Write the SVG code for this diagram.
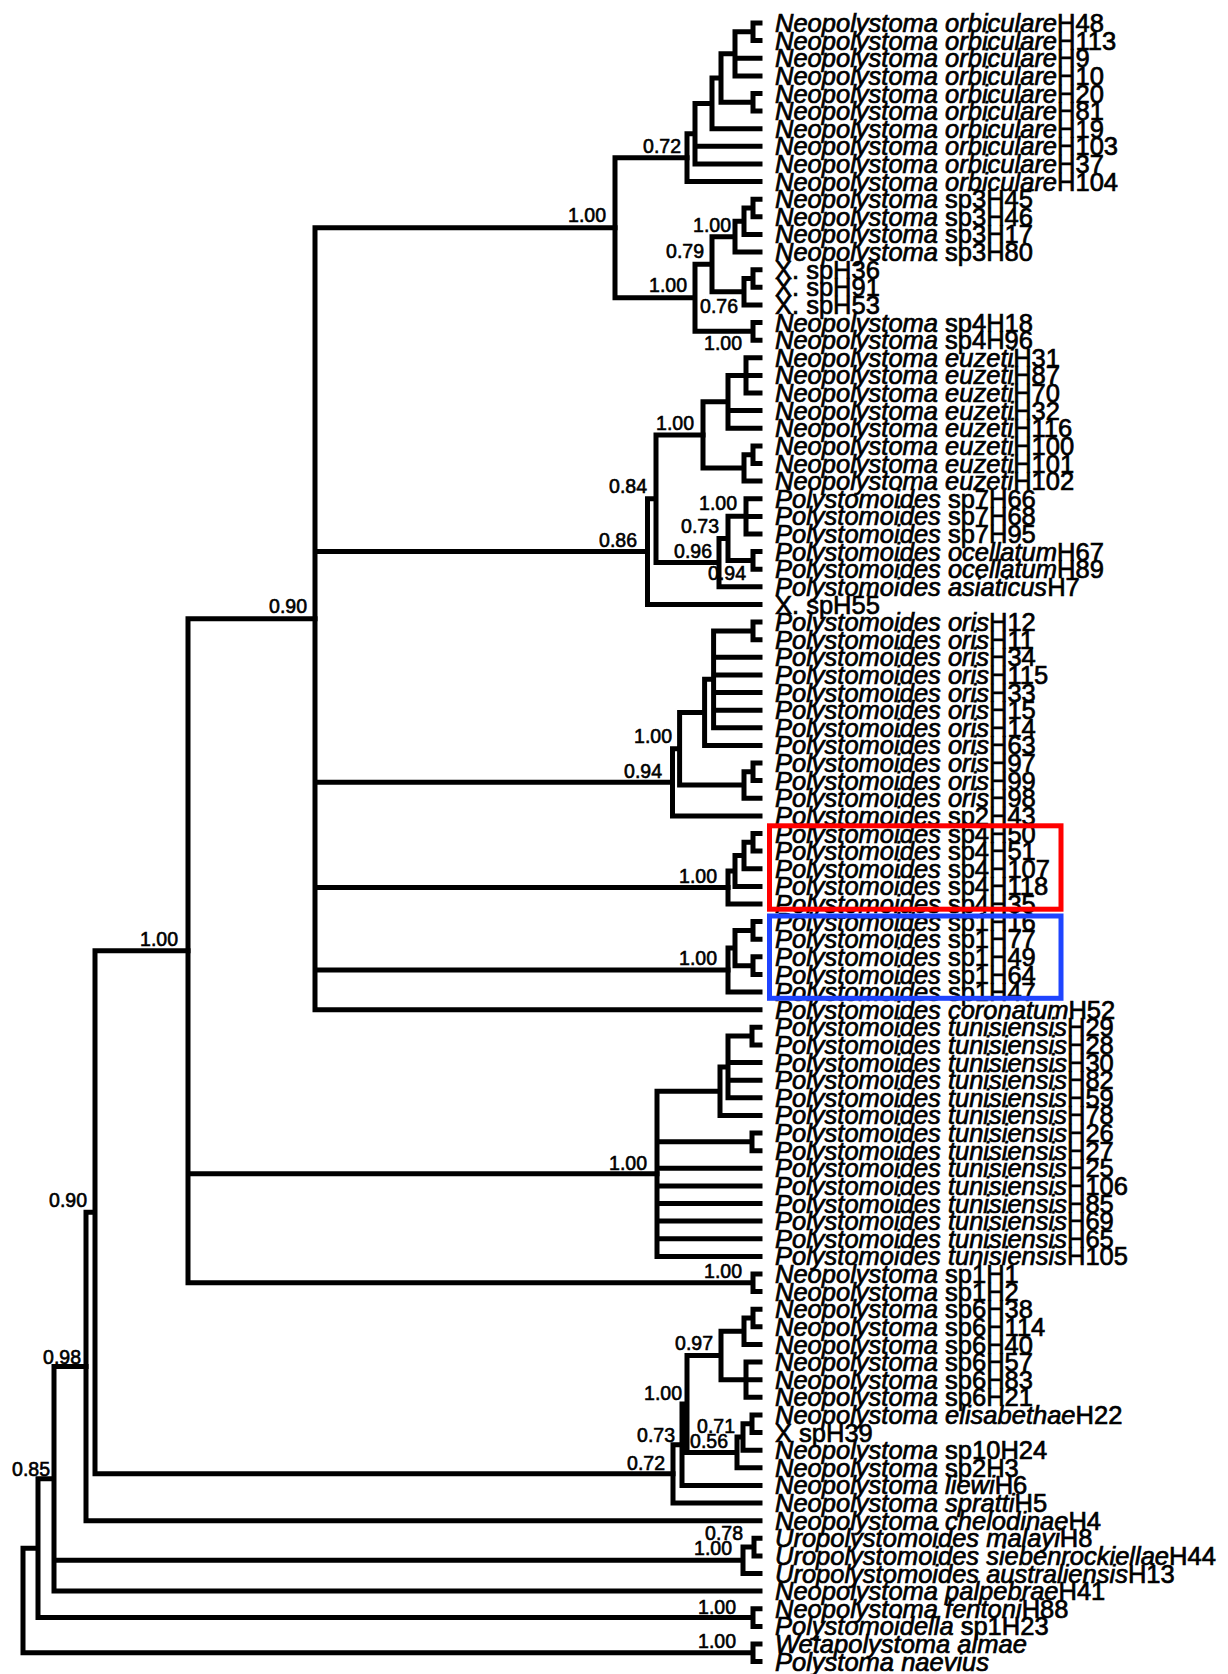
<svg xmlns="http://www.w3.org/2000/svg" width="1228" height="1674" viewBox="0 0 1228 1674">
<style>
.br{fill:none;stroke:#000;stroke-width:5;stroke-linecap:square;stroke-linejoin:miter}
.lf{font-family:"Liberation Sans",Arial,sans-serif;font-size:25.5px;fill:#000;stroke:#000;stroke-width:0.7px}
.i{font-style:italic}
.sp{font-family:"Liberation Sans",Arial,sans-serif;font-size:19.5px;fill:#000;stroke:#000;stroke-width:0.6px;text-anchor:end}
.box{fill:none;stroke-width:5}
</style>
<rect width="1228" height="1674" fill="#fff"/>
<g id="connectors" class="br">
<path d="M760,23H753V40.6H760 M753,31.8H735V75.9H760 M735,58.2H760 M760,93.5H753V111.1H760 M735,53.85H721V102.3H753 M721,78.1H712V128.7H760 M712,103.4H695V164H760 M695,146.3H760 M695,133.7H687V181.6H760"/>
<path d="M760,199.2H753V216.8H760 M753,208H744V234.4H760 M744,221.2H735V252.1H760 M760,269.7H753V287.3H760 M753,278.5H744V304.9H760 M735,236.65H712V291.7H744 M760,322.5H753V340.2H760 M712,264.2H695V331.35H753 M687,157.65H615V297.8H695"/>
<path d="M760,357.8H746V393H760 M746,375.4H760 M746,375.4H728V428.3H760 M728,410.6H760 M760,445.9H753V463.5H760 M753,454.7H744V481.1H760 M728,401.85H703V467.9H744"/>
<path d="M760,498.7H746V534H760 M746,516.4H760 M760,551.6H753V569.2H760 M746,516.35H728V560.4H753 M728,538.4H719V586.8H760 M703,434.9H656V562.6H719 M656,498.75H647.5V604.5H760"/>
<path d="M760,622.1H753V639.7H760 M753,630.9H713.6V727.8H760 M713.6,657.3H760 M713.6,674.9H760 M713.6,692.6H760 M713.6,710.2H760 M713.6,679.35H704.6V745.4H760 M760,763H753V780.6H760 M753,771.8H744V798.3H760 M704.6,712.4H679.6V785.05H744 M679.6,748.7H672.5V815.9H760"/>
<path d="M760,833.5H753V851.1H760 M753,842.3H744V868.7H760 M744,855.5H735V886.4H760 M735,870.95H728V904H760"/>
<path d="M760,921.6H753V939.2H760 M760,956.8H753V974.5H760 M753,930.4H735V965.65H753 M735,948H728V992.1H760"/>
<path d="M615,227.7H315V1009.7H760 M315,551.6H647.5 M315,782.3H672.5 M315,887.5H728 M315,970.05H728"/>
<path d="M760,1027.3H752V1044.9H760 M752,1036.1H728V1097.8H760 M728,1062.6H760 M728,1080.2H760 M728,1066.95H720V1115.4H760 M760,1133H752V1150.7H760 M720,1091.2H657V1256.4H760 M657,1141.85H752 M657,1168.3H760 M657,1185.9H760 M657,1203.5H760 M657,1221.1H760 M657,1238.8H760"/>
<path d="M760,1274H753V1291.6H760 M315,618.7H188V1282.8H753 M188,1173.8H657"/>
<path d="M760,1309.2H753V1326.8H760 M753,1318H744V1344.5H760 M760,1362.1H746V1397.3H760 M746,1379.7H760 M744,1331.25H721V1379.7H746 M760,1414.9H752V1432.6H760 M752,1423.75H743V1450.2H760 M743,1436.95H737V1467.8H760 M721,1355.5H687V1452.4H737 M687,1403.95H682V1485.4H760 M682,1444.7H673V1503H760"/>
<path d="M188,950.75H95V1473.85H673 M95,1212.3H86V1520.7H760"/>
<path d="M760,1538.3H754V1555.9H760 M754,1547.1H743V1573.5H760 M86,1366.5H54V1591.1H760 M54,1560.3H743 M760,1608.8H753V1626.4H760 M54,1478.8H38V1617.6H753 M760,1644H753V1661.6H760 M38,1548.2H23V1652.8H753"/>
</g>
<g id="support" class="sp">
<text x="606" y="222">1.00</text>
<text x="681" y="153">0.72</text>
<text x="731" y="232">1.00</text>
<text x="704" y="258">0.79</text>
<text x="687" y="292">1.00</text>
<text x="738" y="313">0.76</text>
<text x="742" y="350">1.00</text>
<text x="694" y="430">1.00</text>
<text x="647" y="493">0.84</text>
<text x="737" y="510">1.00</text>
<text x="719" y="533">0.73</text>
<text x="712" y="558">0.96</text>
<text x="637" y="547">0.86</text>
<text x="746" y="580">0.94</text>
<text x="307" y="613">0.90</text>
<text x="672" y="743">1.00</text>
<text x="662" y="778">0.94</text>
<text x="717" y="883">1.00</text>
<text x="717" y="965">1.00</text>
<text x="647" y="1170">1.00</text>
<text x="742" y="1278">1.00</text>
<text x="178" y="946">1.00</text>
<text x="713" y="1350">0.97</text>
<text x="682" y="1400">1.00</text>
<text x="675" y="1442">0.73</text>
<text x="665" y="1470">0.72</text>
<text x="735" y="1433">0.71</text>
<text x="728" y="1448">0.56</text>
<text x="87" y="1207">0.90</text>
<text x="81" y="1364">0.98</text>
<text x="50" y="1476">0.85</text>
<text x="743" y="1540">0.78</text>
<text x="732" y="1555">1.00</text>
<text x="736" y="1614">1.00</text>
<text x="736" y="1648">1.00</text>
</g>
<g id="leaves" class="lf">
<g id="n1"><text x="775" y="32"><tspan class="i">Neopolystoma orbiculare</tspan>H48</text></g>
<g id="n2"><text x="775" y="49.6"><tspan class="i">Neopolystoma orbiculare</tspan>H113</text></g>
<g id="n3"><text x="775" y="67.2"><tspan class="i">Neopolystoma orbiculare</tspan>H9</text></g>
<g id="n4"><text x="775" y="84.9"><tspan class="i">Neopolystoma orbiculare</tspan>H10</text></g>
<g id="n5"><text x="775" y="102.5"><tspan class="i">Neopolystoma orbiculare</tspan>H20</text></g>
<g id="n6"><text x="775" y="120.1"><tspan class="i">Neopolystoma orbiculare</tspan>H81</text></g>
<g id="n7"><text x="775" y="137.7"><tspan class="i">Neopolystoma orbiculare</tspan>H19</text></g>
<g id="n8"><text x="775" y="155.3"><tspan class="i">Neopolystoma orbiculare</tspan>H103</text></g>
<g id="n9"><text x="775" y="173"><tspan class="i">Neopolystoma orbiculare</tspan>H37</text></g>
<g id="n10"><text x="775" y="190.6"><tspan class="i">Neopolystoma orbiculare</tspan>H104</text></g>
<g id="n11"><text x="775" y="208.2"><tspan class="i">Neopolystoma</tspan> sp3H45</text></g>
<g id="n12"><text x="775" y="225.8"><tspan class="i">Neopolystoma</tspan> sp3H46</text></g>
<g id="n13"><text x="775" y="243.4"><tspan class="i">Neopolystoma</tspan> sp3H17</text></g>
<g id="n14"><text x="775" y="261.1"><tspan class="i">Neopolystoma</tspan> sp3H80</text></g>
<g id="n15"><text x="775" y="278.7">X. spH36</text></g>
<g id="n16"><text x="775" y="296.3">X. spH91</text></g>
<g id="n17"><text x="775" y="313.9">X. spH53</text></g>
<g id="n18"><text x="775" y="331.5"><tspan class="i">Neopolystoma</tspan> sp4H18</text></g>
<g id="n19"><text x="775" y="349.2"><tspan class="i">Neopolystoma</tspan> sp4H96</text></g>
<g id="n20"><text x="775" y="366.8"><tspan class="i">Neopolystoma euzeti</tspan>H31</text></g>
<g id="n21"><text x="775" y="384.4"><tspan class="i">Neopolystoma euzeti</tspan>H87</text></g>
<g id="n22"><text x="775" y="402"><tspan class="i">Neopolystoma euzeti</tspan>H70</text></g>
<g id="n23"><text x="775" y="419.6"><tspan class="i">Neopolystoma euzeti</tspan>H32</text></g>
<g id="n24"><text x="775" y="437.3"><tspan class="i">Neopolystoma euzeti</tspan>H116</text></g>
<g id="n25"><text x="775" y="454.9"><tspan class="i">Neopolystoma euzeti</tspan>H100</text></g>
<g id="n26"><text x="775" y="472.5"><tspan class="i">Neopolystoma euzeti</tspan>H101</text></g>
<g id="n27"><text x="775" y="490.1"><tspan class="i">Neopolystoma euzeti</tspan>H102</text></g>
<g id="n28"><text x="775" y="507.7"><tspan class="i">Polystomoides</tspan> sp7H66</text></g>
<g id="n29"><text x="775" y="525.4"><tspan class="i">Polystomoides</tspan> sp7H68</text></g>
<g id="n30"><text x="775" y="543"><tspan class="i">Polystomoides</tspan> sp7H95</text></g>
<g id="n31"><text x="775" y="560.6"><tspan class="i">Polystomoides ocellatum</tspan>H67</text></g>
<g id="n32"><text x="775" y="578.2"><tspan class="i">Polystomoides ocellatum</tspan>H89</text></g>
<g id="n33"><text x="775" y="595.8"><tspan class="i">Polystomoides asiaticus</tspan>H7</text></g>
<g id="n34"><text x="775" y="613.5">X. spH55</text></g>
<g id="n35"><text x="775" y="631.1"><tspan class="i">Polystomoides oris</tspan>H12</text></g>
<g id="n36"><text x="775" y="648.7"><tspan class="i">Polystomoides oris</tspan>H11</text></g>
<g id="n37"><text x="775" y="666.3"><tspan class="i">Polystomoides oris</tspan>H34</text></g>
<g id="n38"><text x="775" y="683.9"><tspan class="i">Polystomoides oris</tspan>H115</text></g>
<g id="n39"><text x="775" y="701.6"><tspan class="i">Polystomoides oris</tspan>H33</text></g>
<g id="n40"><text x="775" y="719.2"><tspan class="i">Polystomoides oris</tspan>H15</text></g>
<g id="n41"><text x="775" y="736.8"><tspan class="i">Polystomoides oris</tspan>H14</text></g>
<g id="n42"><text x="775" y="754.4"><tspan class="i">Polystomoides oris</tspan>H63</text></g>
<g id="n43"><text x="775" y="772"><tspan class="i">Polystomoides oris</tspan>H97</text></g>
<g id="n44"><text x="775" y="789.6"><tspan class="i">Polystomoides oris</tspan>H99</text></g>
<g id="n45"><text x="775" y="807.3"><tspan class="i">Polystomoides oris</tspan>H98</text></g>
<g id="n46"><text x="775" y="824.9"><tspan class="i">Polystomoides</tspan> sp2H43</text></g>
<g id="n47"><text x="775" y="842.5"><tspan class="i">Polystomoides</tspan> sp4H50</text></g>
<g id="n48"><text x="775" y="860.1"><tspan class="i">Polystomoides</tspan> sp4H51</text></g>
<g id="n49"><text x="775" y="877.7"><tspan class="i">Polystomoides</tspan> sp4H107</text></g>
<g id="n50"><text x="775" y="895.4"><tspan class="i">Polystomoides</tspan> sp4H118</text></g>
<g id="n51"><text x="775" y="913"><tspan class="i">Polystomoides</tspan> sp4H35</text></g>
<g id="n52"><text x="775" y="930.6"><tspan class="i">Polystomoides</tspan> sp1H16</text></g>
<g id="n53"><text x="775" y="948.2"><tspan class="i">Polystomoides</tspan> sp1H77</text></g>
<g id="n54"><text x="775" y="965.8"><tspan class="i">Polystomoides</tspan> sp1H49</text></g>
<g id="n55"><text x="775" y="983.5"><tspan class="i">Polystomoides</tspan> sp1H64</text></g>
<g id="n56"><text x="775" y="1001.1"><tspan class="i">Polystomoides</tspan> sp1H47</text></g>
<g id="n57"><text x="775" y="1018.7"><tspan class="i">Polystomoides coronatum</tspan>H52</text></g>
<g id="n58"><text x="775" y="1036.3"><tspan class="i">Polystomoides tunisiensis</tspan>H29</text></g>
<g id="n59"><text x="775" y="1053.9"><tspan class="i">Polystomoides tunisiensis</tspan>H28</text></g>
<g id="n60"><text x="775" y="1071.6"><tspan class="i">Polystomoides tunisiensis</tspan>H30</text></g>
<g id="n61"><text x="775" y="1089.2"><tspan class="i">Polystomoides tunisiensis</tspan>H82</text></g>
<g id="n62"><text x="775" y="1106.8"><tspan class="i">Polystomoides tunisiensis</tspan>H59</text></g>
<g id="n63"><text x="775" y="1124.4"><tspan class="i">Polystomoides tunisiensis</tspan>H78</text></g>
<g id="n64"><text x="775" y="1142"><tspan class="i">Polystomoides tunisiensis</tspan>H26</text></g>
<g id="n65"><text x="775" y="1159.7"><tspan class="i">Polystomoides tunisiensis</tspan>H27</text></g>
<g id="n66"><text x="775" y="1177.3"><tspan class="i">Polystomoides tunisiensis</tspan>H25</text></g>
<g id="n67"><text x="775" y="1194.9"><tspan class="i">Polystomoides tunisiensis</tspan>H106</text></g>
<g id="n68"><text x="775" y="1212.5"><tspan class="i">Polystomoides tunisiensis</tspan>H85</text></g>
<g id="n69"><text x="775" y="1230.1"><tspan class="i">Polystomoides tunisiensis</tspan>H69</text></g>
<g id="n70"><text x="775" y="1247.8"><tspan class="i">Polystomoides tunisiensis</tspan>H65</text></g>
<g id="n71"><text x="775" y="1265.4"><tspan class="i">Polystomoides tunisiensis</tspan>H105</text></g>
<g id="n72"><text x="775" y="1283"><tspan class="i">Neopolystoma</tspan> sp1H1</text></g>
<g id="n73"><text x="775" y="1300.6"><tspan class="i">Neopolystoma</tspan> sp1H2</text></g>
<g id="n74"><text x="775" y="1318.2"><tspan class="i">Neopolystoma</tspan> sp6H38</text></g>
<g id="n75"><text x="775" y="1335.8"><tspan class="i">Neopolystoma</tspan> sp6H114</text></g>
<g id="n76"><text x="775" y="1353.5"><tspan class="i">Neopolystoma</tspan> sp6H40</text></g>
<g id="n77"><text x="775" y="1371.1"><tspan class="i">Neopolystoma</tspan> sp6H57</text></g>
<g id="n78"><text x="775" y="1388.7"><tspan class="i">Neopolystoma</tspan> sp6H83</text></g>
<g id="n79"><text x="775" y="1406.3"><tspan class="i">Neopolystoma</tspan> sp6H21</text></g>
<g id="n80"><text x="775" y="1423.9"><tspan class="i">Neopolystoma elisabethae</tspan>H22</text></g>
<g id="n81"><text x="775" y="1441.6">X spH39</text></g>
<g id="n82"><text x="775" y="1459.2"><tspan class="i">Neopolystoma</tspan> sp10H24</text></g>
<g id="n83"><text x="775" y="1476.8"><tspan class="i">Neopolystoma</tspan> sp2H3</text></g>
<g id="n84"><text x="775" y="1494.4"><tspan class="i">Neopolystoma liewi</tspan>H6</text></g>
<g id="n85"><text x="775" y="1512"><tspan class="i">Neopolystoma spratti</tspan>H5</text></g>
<g id="n86"><text x="775" y="1529.7"><tspan class="i">Neopolystoma chelodinae</tspan>H4</text></g>
<g id="n87"><text x="775" y="1547.3"><tspan class="i">Uropolystomoides malayi</tspan>H8</text></g>
<g id="n88"><text x="775" y="1564.9"><tspan class="i">Uropolystomoides siebenrockiellae</tspan>H44</text></g>
<g id="n89"><text x="775" y="1582.5"><tspan class="i">Uropolystomoides australiensis</tspan>H13</text></g>
<g id="n90"><text x="775" y="1600.1"><tspan class="i">Neopolystoma palpebrae</tspan>H41</text></g>
<g id="n91"><text x="775" y="1617.8"><tspan class="i">Neopolystoma fentoni</tspan>H88</text></g>
<g id="n92"><text x="775" y="1635.4"><tspan class="i">Polystomoidella</tspan> sp1H23</text></g>
<g id="n93"><text x="775" y="1653"><tspan class="i">Wetapolystoma almae</tspan></text></g>
<g id="n94"><text x="775" y="1670.6"><tspan class="i">Polystoma naevius</tspan></text></g>
</g>
<g id="highlights">
<rect class="box" x="769.5" y="825.8" width="291.5" height="83.4" stroke="#f00"/>
<rect class="box" x="769.5" y="916" width="291.5" height="82.3" stroke="#1f44ff"/>
</g>
</svg>
